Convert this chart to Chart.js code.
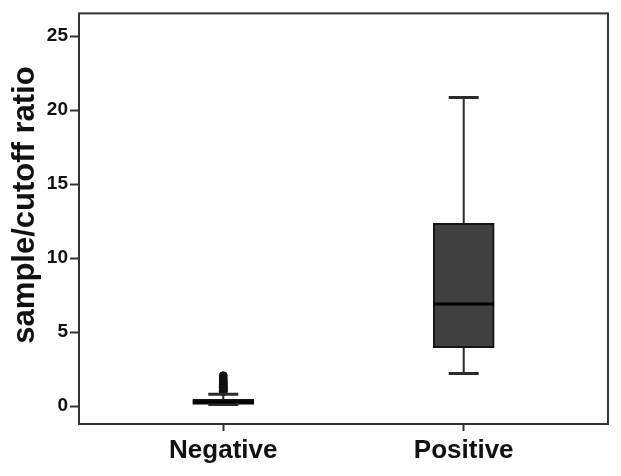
<!DOCTYPE html>
<html><head><meta charset="utf-8">
<script src="https://cdn.jsdelivr.net/npm/chart.js@4.4.1/dist/chart.umd.min.js"></script>
<style>html,body{margin:0;padding:0;background:#fff}#wrap{width:621px;height:476px}</style>
</head><body><div id="wrap"><canvas id="c" width="621" height="476"></canvas></div>
<script>
const categories = ['Negative', 'Positive'];
const whiskerLow = [0.1, 2.2];
const q1 = [0.12, 3.95];
const median = [0.28, 6.9];
const q3 = [0.45, 12.35];
const whiskerHigh = [0.8, 20.85];
const negativeOutliers = [0.98, 1.07, 1.16, 1.24, 1.33, 1.45, 1.56, 1.7, 1.84, 2.05];
const yTicks = [0, 5, 10, 15, 20, 25];
const yTitle = 'sample/cutoff ratio';
const yMin = -1.21, yMax = 26.54;

const FONT = '"Liberation Sans", Arial, sans-serif';
const INK = '#111';
const LINE = '#2b2b2b';

const boxPlugin = {
  id: 'boxParts',
  afterDatasetsDraw(chart) {
    const ctx = chart.ctx, xs = chart.scales.x, ys = chart.scales.y;
    const capHalf = 15, boxHalf = 30.5;
    ctx.save();
    ctx.lineCap = 'butt';
    categories.forEach((c, i) => {
      const x = xs.getPixelForValue(i);
      ctx.strokeStyle = LINE;
      ctx.lineWidth = 2;
      ctx.beginPath();
      ctx.moveTo(x, ys.getPixelForValue(q3[i])); ctx.lineTo(x, ys.getPixelForValue(whiskerHigh[i]));
      ctx.moveTo(x, ys.getPixelForValue(q1[i])); ctx.lineTo(x, ys.getPixelForValue(whiskerLow[i]));
      ctx.stroke();
      ctx.lineWidth = 3;
      ctx.beginPath();
      const yh = ys.getPixelForValue(whiskerHigh[i]), yl = ys.getPixelForValue(whiskerLow[i]);
      ctx.moveTo(x - capHalf, yh); ctx.lineTo(x + capHalf, yh);
      ctx.moveTo(x - capHalf, yl); ctx.lineTo(x + capHalf, yl);
      ctx.stroke();
      ctx.strokeStyle = '#000';
      ctx.lineWidth = 3;
      ctx.beginPath();
      const ym = ys.getPixelForValue(median[i]);
      ctx.moveTo(x - boxHalf, ym); ctx.lineTo(x + boxHalf, ym);
      ctx.stroke();
    });
    ctx.restore();
  }
};

const framePlugin = {
  id: 'frame',
  afterDraw(chart) {
    const { ctx, chartArea: a } = chart;
    ctx.save();
    ctx.strokeStyle = '#333';
    ctx.lineWidth = 2;
    ctx.strokeRect(a.left, a.top, a.right - a.left, a.bottom - a.top);
    ctx.restore();
  }
};

const yTitlePlugin = {
  id: 'ytitle',
  afterDraw(chart) {
    const ctx = chart.ctx;
    ctx.save();
    ctx.translate(25, 205);
    ctx.rotate(-Math.PI / 2);
    ctx.font = 'bold 31px ' + FONT;
    ctx.textAlign = 'center';
    ctx.textBaseline = 'middle';
    ctx.fillStyle = INK;
    ctx.fillText(yTitle, 0, 0);
    ctx.restore();
  }
};

new Chart(document.getElementById('c'), {
  type: 'bar',
  data: {
    datasets: [
      {
        type: 'bar',
        label: 'box',
        data: categories.map((c, i) => ({ x: i, y: [q1[i], q3[i]] })),
        backgroundColor: '#404040',
        borderColor: '#151515',
        borderWidth: 2,
        borderSkipped: false,
        barThickness: 61,
        order: 2
      },
      {
        type: 'scatter',
        label: 'outliers',
        data: negativeOutliers.map(v => ({ x: 0, y: v })),
        pointRadius: 4,
        pointBackgroundColor: '#111',
        pointBorderColor: '#111',
        pointBorderWidth: 1,
        showLine: false,
        order: 1
      }
    ]
  },
  options: {
    responsive: false,
    devicePixelRatio: 1,
    animation: false,
    layout: { padding: { top: 10, right: 13, left: 0, bottom: 0 } },
    plugins: { legend: { display: false }, tooltip: { enabled: false } },
    scales: {
      x: {
        type: 'linear',
        min: -0.6, max: 1.6,
        offset: false,
        afterBuildTicks: s => { s.ticks = categories.map((c, i) => ({ value: i })); },
        afterFit: s => { s.height = 52; },
        grid: { drawOnChartArea: false, offset: false, tickLength: 7, tickWidth: 2, tickColor: '#333', color: '#333' },
        border: { display: false },
        ticks: {
          autoSkip: false, maxRotation: 0, padding: 4, color: INK,
          font: { family: FONT, size: 26, weight: 'bold' },
          callback: v => categories[v]
        }
      },
      y: {
        min: yMin, max: yMax,
        afterBuildTicks: s => { s.ticks = yTicks.map(v => ({ value: v })); },
        afterFit: s => { s.width = 79; },
        grid: { drawOnChartArea: false, tickLength: 9, tickWidth: 2, tickColor: '#333', color: '#333' },
        border: { display: false },
        ticks: { padding: 2, color: INK, font: { family: FONT, size: 19, weight: 'bold' } }
      }
    }
  },
  plugins: [boxPlugin, framePlugin, yTitlePlugin]
});
</script>
</body></html>
